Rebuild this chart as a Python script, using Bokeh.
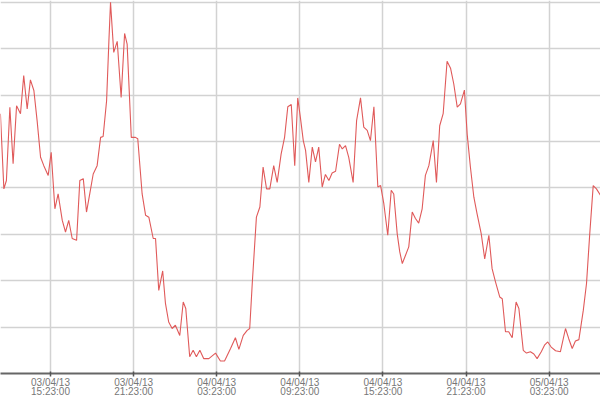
import pandas as pd
from bokeh.plotting import figure
from bokeh.models import Range1d, FixedTicker, DatetimeTickFormatter, ColumnDataSource
from bokeh.embed import file_html
from bokeh.resources import INLINE

# ---- data ----
tick_labels = ["03/04/13 15:23:00", "03/04/13 21:23:00", "04/04/13 03:23:00",
               "04/04/13 09:23:00", "04/04/13 15:23:00", "04/04/13 21:23:00",
               "05/04/13 03:23:00"]

# minutes relative to the first labelled tick (03/04/13 15:23)
minutes = [-217, -202, -191, -176, -162, -147, -130, -116, -101, -87, -72, -58, -43, -29, -10,
           3, 19, 33, 51, 65, 79, 94, 113, 127, 142, 156, 170, 185, 202, 217, 228, 243, 253, 260,
           274, 289, 306, 321, 332, 350, 368, 378, 397, 412, 426,
           445, 455, 469, 486, 498, 512, 527, 541, 560, 575, 586, 603, 618, 632, 647, 664, 686,
           715, 736, 754, 780, 801, 816, 835, 852, 863, 874, 892, 907, 921, 936, 950, 967, 982,
           999, 1014, 1028, 1043, 1058, 1071,
           1083, 1095, 1105, 1119, 1134, 1148, 1162, 1177, 1191, 1206, 1220, 1235, 1252, 1264,
           1278, 1292, 1311, 1326, 1343, 1357, 1372, 1386, 1401, 1418, 1430, 1444, 1461, 1476,
           1487, 1502, 1513, 1524, 1538, 1552, 1567, 1581, 1595, 1610, 1624, 1639, 1658, 1672,
           1686, 1701, 1718,
           1733, 1747, 1762, 1776, 1793, 1805, 1819, 1834, 1848, 1866, 1881, 1899, 1913, 1928,
           1946, 1957, 1971, 1985, 2000, 2017, 2029, 2048, 2062, 2079, 2094, 2108, 2126, 2140,
           2154, 2169, 2188, 2209, 2231, 2245, 2260, 2274, 2289, 2308, 2322, 2336, 2351, 2365, 2383]

values = [56.0, 39.8, 41.6, 57.4, 45.2, 57.7, 56.0, 64.2, 57.0, 63.3, 61.0, 54.5, 46.6, 44.8, 42.7,
          47.7, 35.5, 38.7, 33.0, 30.5, 33.0, 29.1, 28.7, 41.6, 42.0, 34.8, 38.7, 43.0, 44.8, 50.9,
          51.1, 58.8, 71.7, 80.0, 69.2, 71.6, 59.5, 73.3, 71.0, 50.9, 50.9, 50.6, 38.7, 34.1, 33.7,
          29.1, 29.1, 17.9, 22.1, 15.1, 11.1, 9.7, 10.4, 8.2, 15.4, 14.0, 3.6, 5.0, 3.6, 5.0, 3.2,
          3.2, 4.4, 2.7, 2.7, 5.4, 7.7, 5.2, 8.2, 9.3, 9.7, 19.4, 33.7, 35.9, 44.5, 39.8, 39.8,
          44.8, 41.2, 47.3, 50.9, 57.5, 58.0, 44.8, 59.4,
          55.0, 50.2, 48.1, 41.2, 48.8, 45.6, 48.8, 40.2, 42.9, 41.6, 43.2, 43.6, 49.4, 48.4,
          49.1, 46.6, 41.2, 54.5, 59.4, 53.1, 52.4, 50.2, 57.5, 40.2, 40.5, 36.6, 29.8, 39.5,
          38.7, 30.1, 26.2, 23.7, 25.5, 27.3, 34.8, 33.4, 32.4, 35.5, 42.7, 44.8, 50.2, 41.2,
          53.4, 56.0, 67.3,
          65.8, 62.4, 57.4, 58.1, 61.1, 51.6, 44.5, 38.0, 34.4, 30.1, 24.7, 29.8, 22.6, 19.7,
          16.5, 16.1, 9.0, 9.0, 7.7, 15.4, 14.0, 5.0, 4.4, 4.7, 4.2, 3.2, 4.7, 6.1,
          6.8, 5.7, 4.9, 4.7, 9.7, 7.5, 5.4, 7.0, 7.3, 13.6, 19.4, 30.1, 40.5, 39.8, 38.4]

grid_levels = [10, 20, 30, 40, 50, 60, 70, 80]

# ---- build ----
ticks = pd.to_datetime(tick_labels, format="%d/%m/%y %H:%M:%S")
t0 = ticks[0]
times = [t0 + pd.Timedelta(minutes=m) for m in minutes]
src = ColumnDataSource(dict(t=times, v=values))

x_start = t0 - pd.Timedelta(minutes=216.6)
x_end = t0 + pd.Timedelta(minutes=2382.6)

p = figure(width=600, height=400, x_axis_type="datetime", output_backend="svg",
           toolbar_location=None, x_range=Range1d(x_start, x_end), y_range=Range1d(0, 80.4),
           min_border_left=0, min_border_right=0, min_border_top=0, min_border_bottom=27)
p.yaxis.visible = False
p.outline_line_color = None
p.background_fill_color = "white"
p.border_fill_color = "white"

tick_ms = [t.value / 1e6 for t in ticks]
p.xaxis.ticker = FixedTicker(ticks=tick_ms)
fmt = "%d/%m/%y\n%H:%M:%S"
p.xaxis.formatter = DatetimeTickFormatter(
    microseconds=fmt, milliseconds=fmt, seconds=fmt, minsec=fmt, minutes=fmt,
    hourmin=fmt, hours=fmt, days=fmt, months=fmt, years=fmt)
p.xaxis.axis_line_color = "#666666"
p.xaxis.axis_line_width = 2
p.xaxis.major_tick_line_color = "#555555"
p.xaxis.major_tick_line_width = 1.5
p.xaxis.major_tick_in = 2
p.xaxis.major_tick_out = 3
p.xaxis.minor_tick_line_color = None
p.xaxis.major_label_standoff = 0
p.xaxis.major_label_text_font = "Liberation Sans"
p.xaxis.major_label_text_font_size = "10px"
p.xaxis.major_label_text_color = "#777777"
p.xaxis.major_label_text_line_height = 0.85

p.xgrid.ticker = FixedTicker(ticks=tick_ms)
p.ygrid.ticker = FixedTicker(ticks=grid_levels)
p.xgrid.grid_line_color = "#d2d2d2"
p.ygrid.grid_line_color = "#d2d2d2"
p.xgrid.grid_line_width = 1.5
p.ygrid.grid_line_width = 1.5

p.line("t", "v", source=src, line_color="#e05a5a", line_width=1.1)

open("out.html", "w").write(file_html(p, INLINE))
